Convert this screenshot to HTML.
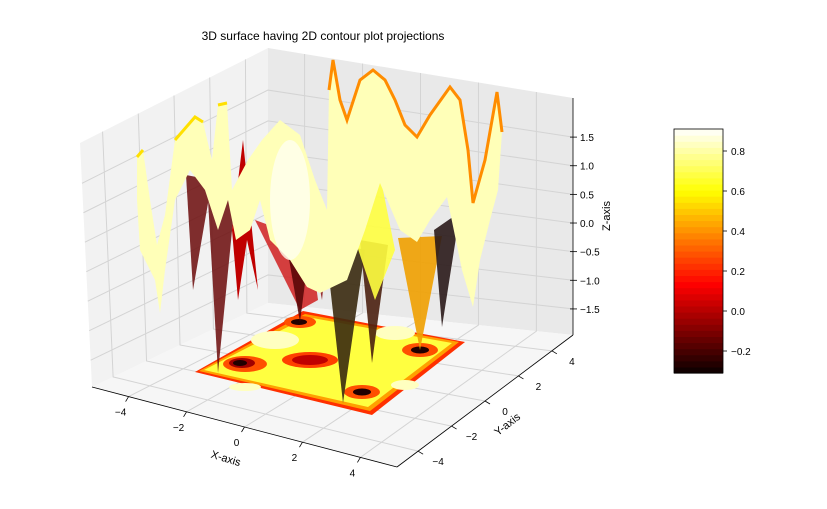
<!DOCTYPE html>
<html><head><meta charset="utf-8"><style>
body{margin:0;background:#fff}
svg{display:block;font-family:"Liberation Sans",sans-serif}
</style></head><body>
<svg id="c" width="827" height="509" viewBox="0 0 827 509">
<text x="323" y="40" font-size="12" text-anchor="middle">3D surface having 2D contour plot projections</text>
<g id="panes"></g>
<g id="grid"></g>
<g id="floor">
<polygon points="195,372 372,415 465,342 303,311" fill="#ff3000"/>
<polygon points="199,371 370,411 459,342 305,314" fill="#ffa000"/>
<polygon points="204,370 368,407 452,343 307,317" fill="#ffff40"/>
<ellipse cx="245" cy="364" rx="22" ry="8" fill="#ff5000"/>
<ellipse cx="242" cy="363" rx="13" ry="5" fill="#a00000"/>
<ellipse cx="240" cy="363" rx="7" ry="3" fill="#200000"/>
<ellipse cx="300" cy="322" rx="16" ry="6" fill="#ff5000"/>
<ellipse cx="299" cy="322" rx="8" ry="3" fill="#200000"/>
<ellipse cx="420" cy="350" rx="18" ry="7" fill="#ff5000"/>
<ellipse cx="420" cy="350" rx="9" ry="3.5" fill="#200000"/>
<ellipse cx="362" cy="392" rx="18" ry="7" fill="#ff5000"/>
<ellipse cx="362" cy="392" rx="9" ry="3.5" fill="#200000"/>
<ellipse cx="310" cy="360" rx="28" ry="8" fill="#ff4000"/>
<ellipse cx="310" cy="360" rx="18" ry="5" fill="#c00000"/>
<ellipse cx="275" cy="340" rx="24" ry="9" fill="#ffffc0"/>
<ellipse cx="395" cy="333" rx="20" ry="7" fill="#ffffc0"/>
<ellipse cx="245" cy="387" rx="16" ry="4" fill="#ffffc0"/>
<ellipse cx="405" cy="385" rx="14" ry="5" fill="#ffffc0"/>
</g>
<g id="surface">
<polygon points="186,175 212,180 193,290" fill="#6b0b0b" opacity=".85"/>
<polygon points="208,200 236,190 218,373" fill="#6b0b0b" opacity=".85"/>
<polygon points="232,230 243,140 258,290 247,240 238,300" fill="#c00000"/>
<polygon points="255,220 310,240 318,300 300,310" fill="#d02020" opacity=".85"/>
<polygon points="283,225 312,228 300,322" fill="#5a0808" opacity=".9"/>
<polygon points="310,235 328,240 322,300" fill="#8a1010" opacity=".85"/>
<polygon points="325,240 365,250 343,403" fill="#3a2a10" opacity=".9"/>
<polygon points="360,240 388,245 372,363" fill="#4a2010" opacity=".9"/>
<polygon points="355,240 380,175 395,250 375,300" fill="#ffff40" opacity=".9"/>
<polygon points="398,238 442,236 420,350" fill="#f0a000" opacity=".9"/>
<polygon points="434,230 460,212 442,327" fill="#2a1a1a" opacity=".9"/>
<path d="M137,157 L143,150 L150,200 L157,245 L165,215 L175,140 L195,117 L203,122 L212,160 L218,105 L227,103 L232,190 L248,160 L262,140 L280,120 L300,135 L315,180 L327,210 L329,90 L333,60 L340,100 L347,120 L360,80 L373,70 L385,80 L395,100 L405,125 L417,137 L430,115 L450,87 L460,100 L468,150 L473,203 L485,160 L497,92 L502,132 L498,190 L490,220 L480,260 L473,307 L462,270 L447,197 L430,220 L417,242 L400,230 L380,183 L365,230 L347,280 L320,293 L307,287 L290,260 L270,240 L260,200 L250,230 L236,240 L228,200 L218,230 L205,190 L190,170 L175,200 L165,270 L160,313 L155,280 L140,250 L137,200 Z" fill="#ffffb8"/>
<path d="M329,90 L333,60 L340,100 L347,120 L360,80 L373,70 L385,80 L395,100 L405,125 L417,137 L430,115 L450,87 L460,100 L468,150 L473,203 L485,160 L497,92 L502,132" fill="none" stroke="#ff8c00" stroke-width="3"/>
<path d="M137,157 L143,150 M175,140 L195,117 L203,122 M218,105 L227,103" fill="none" stroke="#ffe000" stroke-width="3"/>
<ellipse cx="290" cy="200" rx="20" ry="60" fill="#fffff0" opacity=".8"/>
</g>
<g id="axes"></g>
<text x="226" y="462" font-size="11" transform="rotate(17 226 458)" text-anchor="middle">X-axis</text>
<text x="507" y="428" font-size="11" transform="rotate(-38 507 424)" text-anchor="middle">Y-axis</text>
<text x="610" y="216" font-size="11" transform="rotate(-90 610 216)" text-anchor="middle">Z-axis</text>
<g id="cbar"></g>
</svg>
<script>
const xTicks=[-4,-2,0,2,4];
const yTicks=[-4,-2,0,2,4];
const zTicks=[-1.5,-1.0,-0.5,0.0,0.5,1.0,1.5];
const cbTicks=[-0.2,0.0,0.2,0.4,0.6,0.8];
const cbRange=[-0.31,0.91];
const NS="http://www.w3.org/2000/svg";
function mk(p,t,a){const e=document.createElementNS(NS,t);for(const k in a)e.setAttribute(k,a[k]);p.appendChild(e);return e;}
const L=[92,387],B=[268,303],R=[573,335],F=[397,467];
const LT=[80,143],BT=[268,48],RT=[573,98];
const lp=(a,b,t)=>[a[0]+(b[0]-a[0])*t,a[1]+(b[1]-a[1])*t];
const pts=a=>a.map(p=>p.join(',')).join(' ');
const panes=document.getElementById('panes');
let e=mk(panes,'polygon',{points:pts([L,B,BT,LT]),fill:'#f2f2f2'});

e=mk(panes,'polygon',{points:pts([B,R,RT,BT]),fill:'#e9e9e9'});

e=mk(panes,'polygon',{points:pts([L,B,R,F]),fill:'#f6f6f6'});

const grid=document.getElementById('grid');
const xf=v=>0.5+v*0.095, yf=v=>0.5+v*0.095, zf=v=>0.11+(v+1.5)/3*0.725;
xTicks.forEach(v=>{const t=xf(v);const a=lp(L,F,t),b=lp(B,R,t),c=lp(BT,RT,t);
 const g=mk(grid,'polyline',{points:pts([a,b,c]),fill:'none',stroke:'#d4d4d4','stroke-width':1});
 });
yTicks.forEach(v=>{const t=yf(v);const a=lp(F,R,t),b=lp(L,B,t),c=lp(LT,BT,t);
 const g=mk(grid,'polyline',{points:pts([a,b,c]),fill:'none',stroke:'#d4d4d4','stroke-width':1});
 });
zTicks.forEach(v=>{const t=zf(v);const a=lp(L,LT,t),b=lp(B,BT,t),c=lp(R,RT,t);
 const g=mk(grid,'polyline',{points:pts([a,b,c]),fill:'none',stroke:'#d4d4d4','stroke-width':1});
 });
const ax=document.getElementById('axes');
mk(ax,'line',{x1:L[0],y1:L[1],x2:F[0],y2:F[1],stroke:'#000','stroke-width':0.8});
mk(ax,'line',{x1:F[0],y1:F[1],x2:R[0],y2:R[1],stroke:'#000','stroke-width':0.8});
mk(ax,'line',{x1:R[0],y1:R[1],x2:RT[0],y2:RT[1],stroke:'#000','stroke-width':0.8});
xTicks.forEach(v=>{const p=lp(L,F,xf(v));
 mk(ax,'line',{x1:p[0],y1:p[1],x2:p[0]-3,y2:p[1]+5,stroke:'#000','stroke-width':0.8});
 const t=mk(ax,'text',{x:p[0]-8,y:p[1]+19,'font-size':10,'text-anchor':'middle'});t.textContent=v==0?'0':String(v).replace('-','\u2212');
 });
yTicks.forEach(v=>{const p=lp(F,R,yf(v));
 mk(ax,'line',{x1:p[0],y1:p[1],x2:p[0]+5,y2:p[1]+3,stroke:'#000','stroke-width':0.8});
 const t=mk(ax,'text',{x:p[0]+20,y:p[1]+14,'font-size':10,'text-anchor':'middle'});t.textContent=String(v).replace('-','\u2212');
 });
zTicks.forEach(v=>{const p=lp(R,RT,zf(v));
 mk(ax,'line',{x1:p[0]-3,y1:p[1],x2:p[0]+4,y2:p[1],stroke:'#000','stroke-width':0.8});
 const t=mk(ax,'text',{x:p[0]+7,y:p[1]+4,'font-size':10});t.textContent=v.toFixed(1).replace('-','\u2212');
 });
// hot colormap
function hot(t){const r=Math.min(1,t/0.365),g=Math.min(1,Math.max(0,(t-0.365)/0.381)),b=Math.min(1,Math.max(0,(t-0.746)/0.254));
 return 'rgb('+Math.round(10+245*r)+','+Math.round(255*g)+','+Math.round(255*b)+')';}
const cb=document.getElementById('cbar');
const cy0=373,cy1=129,lo=cbRange[0],hi=cbRange[1];
const cyv=v=>cy0-(v-lo)/(hi-lo)*(cy0-cy1);
const NB=40;
for(let i=0;i<NB;i++){const y1=cy0-(i+1)/NB*(cy0-cy1),y0=cy0-i/NB*(cy0-cy1);
 const r=mk(cb,'rect',{x:674,y:y1,width:49,height:y0-y1+0.6,fill:hot((i+0.5)/NB)});
 }
mk(cb,'rect',{x:674,y:129,width:49,height:244,fill:'none',stroke:'#000','stroke-width':0.8});
cbTicks.forEach(v=>{const y=cyv(v);
 mk(cb,'line',{x1:723,y1:y,x2:727,y2:y,stroke:'#000','stroke-width':0.8});
 const t=mk(cb,'text',{x:731,y:y+4,'font-size':10});t.textContent=v.toFixed(1).replace('-','\u2212');
 });
</script>
</body></html>
